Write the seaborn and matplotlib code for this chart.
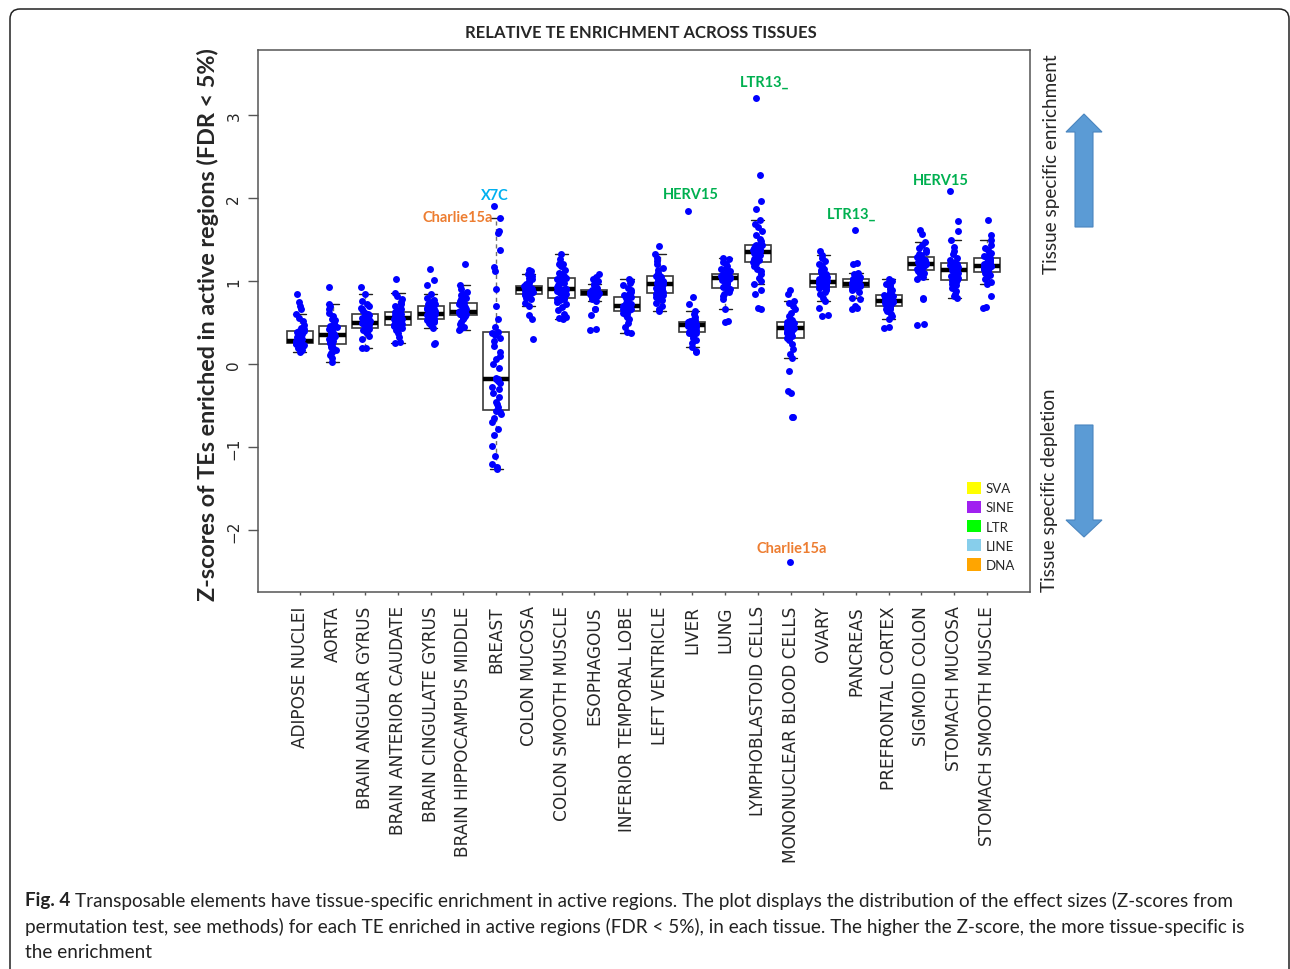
import numpy as np
import pandas as pd
import matplotlib
matplotlib.use("Agg")
import matplotlib.pyplot as plt
from matplotlib.patches import Patch, FancyBboxPatch, FancyArrow
from matplotlib.transforms import IdentityTransform
import seaborn as sns

# ---------------- data ----------------
tissues = ["ADIPOSE NUCLEI", "AORTA", "BRAIN ANGULAR GYRUS", "BRAIN ANTERIOR CAUDATE",
           "BRAIN CINGULATE GYRUS", "BRAIN HIPPOCAMPUS MIDDLE", "BREAST", "COLON MUCOSA",
           "COLON SMOOTH MUSCLE", "ESOPHAGOUS", "INFERIOR TEMPORAL LOBE", "LEFT VENTRICLE",
           "LIVER", "LUNG", "LYMPHOBLASTOID CELLS", "MONONUCLEAR BLOOD CELLS", "OVARY",
           "PANCREAS", "PREFRONTAL CORTEX", "SIGMOID COLON", "STOMACH MUCOSA",
           "STOMACH SMOOTH MUSCLE"]

adipose_nuclei = [0.15, 0.17, 0.19, 0.21, 0.22, 0.23, 0.24, 0.25, 0.25, 0.25,
                  0.26, 0.26, 0.27, 0.27, 0.27, 0.28, 0.28, 0.28, 0.28, 0.28,
                  0.29, 0.30, 0.31, 0.33, 0.35, 0.36, 0.38, 0.39, 0.40, 0.40,
                  0.42, 0.44, 0.47, 0.52, 0.56, 0.61, 0.66, 0.70, 0.75, 0.84]
aorta = [0.03, 0.08, 0.11, 0.13, 0.15, 0.17, 0.19, 0.21, 0.23, 0.24,
         0.25, 0.27, 0.28, 0.30, 0.31, 0.32, 0.33, 0.34, 0.34, 0.35,
         0.35, 0.36, 0.37, 0.38, 0.40, 0.41, 0.42, 0.44, 0.45, 0.46,
         0.47, 0.50, 0.53, 0.55, 0.58, 0.62, 0.66, 0.70, 0.73, 0.93]
brain_angular_gyrus = [0.19, 0.20, 0.30, 0.34, 0.37, 0.39, 0.40, 0.41, 0.42, 0.43,
                       0.43, 0.44, 0.45, 0.46, 0.47, 0.47, 0.48, 0.48, 0.49, 0.49,
                       0.49, 0.50, 0.51, 0.52, 0.53, 0.55, 0.56, 0.58, 0.59, 0.60,
                       0.60, 0.62, 0.64, 0.66, 0.68, 0.70, 0.73, 0.76, 0.84, 0.93]
brain_anterior_caudate = [0.26, 0.27, 0.33, 0.38, 0.41, 0.43, 0.44, 0.45, 0.46, 0.47,
                          0.47, 0.48, 0.50, 0.51, 0.52, 0.53, 0.54, 0.54, 0.55, 0.55,
                          0.56, 0.57, 0.58, 0.59, 0.60, 0.60, 0.61, 0.62, 0.62, 0.63,
                          0.63, 0.65, 0.67, 0.70, 0.72, 0.75, 0.78, 0.82, 0.86, 1.03]
brain_cingulate_gyrus = [0.24, 0.25, 0.44, 0.47, 0.49, 0.51, 0.52, 0.53, 0.53, 0.54,
                         0.54, 0.55, 0.56, 0.57, 0.58, 0.59, 0.60, 0.60, 0.61, 0.61,
                         0.61, 0.62, 0.63, 0.64, 0.65, 0.66, 0.67, 0.68, 0.69, 0.70,
                         0.70, 0.72, 0.73, 0.75, 0.77, 0.80, 0.85, 0.95, 1.01, 1.14]
brain_hippocampus_middle = [0.41, 0.42, 0.45, 0.48, 0.51, 0.54, 0.56, 0.57, 0.58, 0.59,
                            0.59, 0.60, 0.60, 0.61, 0.61, 0.62, 0.62, 0.62, 0.63, 0.63,
                            0.63, 0.64, 0.65, 0.66, 0.68, 0.69, 0.70, 0.72, 0.73, 0.74,
                            0.74, 0.76, 0.78, 0.80, 0.83, 0.85, 0.87, 0.90, 0.95, 1.20]
breast = [-1.26, -1.24, -1.20, -1.10, -0.98, -0.85, -0.78, -0.70, -0.65, -0.60,
          -0.57, -0.56, -0.52, -0.48, -0.45, -0.40, -0.35, -0.30, -0.27, -0.22,
          -0.20, -0.18, -0.18, -0.17, -0.05, 0.00, 0.06, 0.10, 0.15, 0.22,
          0.28, 0.32, 0.35, 0.38, 0.39, 0.45, 0.55, 0.70, 0.90, 1.12,
          1.17, 1.38, 1.58, 1.60, 1.76, 1.90]
colon_mucosa = [0.30, 0.54, 0.59, 0.70, 0.74, 0.78, 0.80, 0.82, 0.83, 0.84,
                0.84, 0.85, 0.86, 0.87, 0.87, 0.88, 0.88, 0.89, 0.89, 0.90,
                0.90, 0.90, 0.91, 0.91, 0.92, 0.92, 0.93, 0.93, 0.94, 0.94,
                0.94, 0.96, 0.98, 1.00, 1.02, 1.04, 1.06, 1.08, 1.12, 1.13]
colon_smooth_muscle = [0.55, 0.56, 0.57, 0.60, 0.65, 0.69, 0.72, 0.75, 0.77, 0.78,
                       0.79, 0.80, 0.81, 0.83, 0.84, 0.85, 0.86, 0.87, 0.88, 0.89,
                       0.89, 0.90, 0.90, 0.91, 0.93, 0.95, 0.96, 0.98, 0.99, 1.00,
                       1.02, 1.03, 1.04, 1.04, 1.06, 1.08, 1.10, 1.13, 1.18, 1.20,
                       1.21, 1.22, 1.26, 1.32]
esophagous = [0.41, 0.42, 0.59, 0.66, 0.67, 0.76, 0.78, 0.80, 0.82, 0.83,
              0.83, 0.84, 0.84, 0.85, 0.85, 0.85, 0.86, 0.86, 0.86, 0.86,
              0.86, 0.87, 0.87, 0.87, 0.88, 0.88, 0.88, 0.89, 0.89, 0.89,
              0.90, 0.91, 0.92, 0.93, 0.95, 0.97, 1.00, 1.02, 1.05, 1.08]
inferior_temporal_lobe = [0.38, 0.39, 0.45, 0.50, 0.54, 0.57, 0.59, 0.61, 0.62, 0.63,
                          0.64, 0.65, 0.66, 0.67, 0.67, 0.68, 0.69, 0.69, 0.70, 0.70,
                          0.70, 0.71, 0.72, 0.73, 0.74, 0.75, 0.77, 0.78, 0.80, 0.81,
                          0.81, 0.83, 0.85, 0.87, 0.89, 0.92, 0.95, 0.98, 1.00, 1.02]
left_ventricle = [0.64, 0.66, 0.70, 0.74, 0.77, 0.79, 0.81, 0.83, 0.84, 0.85,
                  0.86, 0.87, 0.89, 0.90, 0.91, 0.92, 0.93, 0.94, 0.95, 0.96,
                  0.96, 0.97, 0.98, 0.99, 1.00, 1.01, 1.02, 1.03, 1.05, 1.06,
                  1.06, 1.08, 1.10, 1.13, 1.16, 1.20, 1.24, 1.28, 1.33, 1.42]
liver = [0.15, 0.16, 0.21, 0.25, 0.29, 0.32, 0.34, 0.36, 0.37, 0.38,
         0.39, 0.40, 0.41, 0.42, 0.43, 0.44, 0.45, 0.46, 0.46, 0.47,
         0.47, 0.47, 0.48, 0.48, 0.49, 0.49, 0.50, 0.50, 0.51, 0.51,
         0.51, 0.52, 0.53, 0.55, 0.57, 0.60, 0.64, 0.73, 0.81, 1.84]
lung = [0.51, 0.52, 0.66, 0.79, 0.82, 0.85, 0.87, 0.89, 0.90, 0.91,
        0.92, 0.93, 0.95, 0.97, 0.98, 0.99, 1.00, 1.01, 1.02, 1.03,
        1.04, 1.04, 1.05, 1.05, 1.06, 1.06, 1.07, 1.08, 1.08, 1.09,
        1.09, 1.10, 1.12, 1.14, 1.16, 1.18, 1.20, 1.23, 1.26, 1.28]
lymphoblastoid_cells = [0.67, 0.68, 0.85, 0.89, 0.96, 1.00, 1.04, 1.08, 1.12, 1.15,
                        1.18, 1.22, 1.23, 1.25, 1.27, 1.28, 1.29, 1.30, 1.31, 1.32,
                        1.33, 1.34, 1.35, 1.35, 1.36, 1.37, 1.38, 1.39, 1.40, 1.40,
                        1.41, 1.42, 1.42, 1.43, 1.43, 1.45, 1.48, 1.51, 1.55, 1.60,
                        1.65, 1.69, 1.73, 1.87, 1.96, 2.28, 3.20]
mononuclear_blood_cells = [-2.38, -0.64, -0.63, -0.35, -0.32, -0.08, 0.07, 0.12, 0.18, 0.24,
                           0.29, 0.32, 0.34, 0.36, 0.37, 0.38, 0.39, 0.40, 0.41, 0.42,
                           0.42, 0.43, 0.43, 0.44, 0.45, 0.46, 0.46, 0.47, 0.48, 0.48,
                           0.49, 0.50, 0.50, 0.51, 0.53, 0.55, 0.58, 0.62, 0.66, 0.70,
                           0.74, 0.76, 0.85, 0.89]
ovary = [0.58, 0.59, 0.68, 0.76, 0.80, 0.84, 0.87, 0.89, 0.91, 0.92,
         0.93, 0.94, 0.95, 0.95, 0.96, 0.97, 0.97, 0.98, 0.98, 0.99,
         0.99, 1.00, 1.01, 1.02, 1.03, 1.04, 1.05, 1.06, 1.08, 1.09,
         1.09, 1.11, 1.13, 1.15, 1.18, 1.21, 1.24, 1.28, 1.31, 1.36]
pancreas = [0.67, 0.68, 0.70, 0.78, 0.80, 0.87, 0.89, 0.91, 0.92, 0.93,
            0.93, 0.93, 0.94, 0.94, 0.95, 0.95, 0.95, 0.96, 0.96, 0.96,
            0.96, 0.97, 0.97, 0.98, 0.98, 0.99, 1.00, 1.00, 1.01, 1.02,
            1.02, 1.03, 1.04, 1.05, 1.06, 1.08, 1.10, 1.20, 1.22, 1.61]
prefrontal_cortex = [0.43, 0.45, 0.55, 0.58, 0.61, 0.64, 0.66, 0.67, 0.68, 0.69,
                     0.70, 0.71, 0.72, 0.73, 0.73, 0.74, 0.74, 0.75, 0.75, 0.76,
                     0.76, 0.77, 0.77, 0.78, 0.79, 0.80, 0.80, 0.81, 0.82, 0.83,
                     0.83, 0.85, 0.87, 0.89, 0.91, 0.93, 0.95, 0.97, 1.00, 1.02]
sigmoid_colon = [0.47, 0.48, 0.79, 0.80, 1.02, 1.05, 1.08, 1.10, 1.12, 1.13,
                 1.14, 1.15, 1.16, 1.17, 1.18, 1.18, 1.19, 1.20, 1.20, 1.21,
                 1.21, 1.22, 1.23, 1.24, 1.25, 1.26, 1.27, 1.28, 1.28, 1.29,
                 1.29, 1.31, 1.33, 1.35, 1.37, 1.40, 1.43, 1.47, 1.57, 1.61]
stomach_mucosa = [0.80, 0.82, 0.85, 0.88, 0.92, 0.95, 0.97, 0.99, 1.00, 1.01,
                  1.02, 1.04, 1.06, 1.08, 1.09, 1.10, 1.11, 1.12, 1.13, 1.13,
                  1.14, 1.15, 1.16, 1.17, 1.18, 1.19, 1.20, 1.21, 1.21, 1.22,
                  1.22, 1.25, 1.28, 1.32, 1.36, 1.41, 1.49, 1.60, 1.72, 2.08]
stomach_smooth_muscle = [0.68, 0.69, 0.82, 0.96, 0.99, 1.02, 1.05, 1.07, 1.09, 1.10,
                         1.11, 1.12, 1.13, 1.14, 1.15, 1.16, 1.16, 1.17, 1.17, 1.18,
                         1.18, 1.19, 1.20, 1.21, 1.22, 1.23, 1.24, 1.25, 1.27, 1.28,
                         1.28, 1.30, 1.32, 1.34, 1.37, 1.40, 1.44, 1.49, 1.55, 1.74]

tissue_values = [adipose_nuclei, aorta, brain_angular_gyrus, brain_anterior_caudate,
                 brain_cingulate_gyrus, brain_hippocampus_middle, breast, colon_mucosa,
                 colon_smooth_muscle, esophagous, inferior_temporal_lobe, left_ventricle,
                 liver, lung, lymphoblastoid_cells, mononuclear_blood_cells, ovary,
                 pancreas, prefrontal_cortex, sigmoid_colon, stomach_mucosa,
                 stomach_smooth_muscle]

# labelled TEs
label_names = ["X7C", "Charlie15a", "HERV15", "LTR13_", "LTR13_", "HERV15", "Charlie15a"]
label_tissues = ["BREAST", "BREAST", "LIVER", "LYMPHOBLASTOID CELLS", "PANCREAS",
                 "STOMACH MUCOSA", "MONONUCLEAR BLOOD CELLS"]
label_values = [1.90, 1.76, 1.84, 3.20, 1.61, 2.08, -2.38]
label_classes = ["LINE", "DNA", "LTR", "LTR", "LTR", "LTR", "DNA"]

te_classes = ["SVA", "SINE", "LTR", "LINE", "DNA"]
te_class_colors = ["#FFFF00", "#A020F0", "#00FF00", "#87CEEB", "#FFA500"]
te_text_colors = {"LINE": "#00B0F0", "DNA": "#ED7D31", "LTR": "#00B050"}

# ---------------- layout ----------------
W, H = 1290, 970
sns.set_style("white")
plt.rcParams["font.family"] = ["DejaVu Sans"]
fig = plt.figure(figsize=(W / 100, H / 100), dpi=100)
fig.patch.set_facecolor("white")

ax_l, ax_r, ax_t, ax_b = 258, 1030, 51, 593
ax = fig.add_axes([ax_l / W, 1 - ax_b / H, (ax_r - ax_l) / W, (ax_b - ax_t) / H])

df = pd.DataFrame({
    "tissue": np.concatenate([[t] * len(v) for t, v in zip(tissues, tissue_values)]),
    "z": np.concatenate([np.asarray(v, float) for v in tissue_values]),
})

sns.boxplot(data=df, x="tissue", y="z", order=tissues, ax=ax, width=0.8,
            color="white", showfliers=False, whis=1.5,
            boxprops=dict(facecolor="white", edgecolor="#3a3a3a", linewidth=1.2),
            medianprops=dict(color="black", linewidth=3.2),
            whiskerprops=dict(color="#707070", linewidth=1.0, linestyle=(0, (3, 2.5))),
            capprops=dict(color="#202020", linewidth=1.0))

np.random.seed(3)
sns.stripplot(data=df, x="tissue", y="z", order=tissues, ax=ax, color="#0000FF",
              size=5.0, jitter=0.14, linewidth=0, alpha=1.0, zorder=3)

ax.set_xlim(-1.28, 22.32)
ax.set_ylim(-2.74, 3.78)
ax.set_yticks([-2, -1, 0, 1, 2, 3])
ax.set_xlabel("")
ax.set_ylabel("")

for s in ax.spines.values():
    s.set_color("#555555")
    s.set_linewidth(1.1)
    s.set_visible(True)

ax.tick_params(axis="y", direction="out", length=7, width=1, color="#555555",
               labelsize=11, pad=5, left=True)
ax.tick_params(axis="x", direction="out", length=2.5, width=1, color="#555555",
               labelsize=12.2, pad=7, bottom=True)
for lab in ax.get_yticklabels():
    lab.set_rotation(90)
    lab.set_va("center")
    lab.set_ha("right")
    lab.set_fontfamily("DejaVu Sans")
    lab.set_fontsize(11)
for lab in ax.get_xticklabels():
    lab.set_rotation(90)
    lab.set_va("top")
    lab.set_ha("center")
    lab.set_fontfamily("DejaVu Sans")

# labels of outstanding TEs
label_offsets = [(-0.05, 0.14, "center"), (-0.11, 0.01, "right"), (-0.06, 0.21, "center"),
                 (0.22, 0.20, "center"), (-0.12, 0.20, "center"), (-0.41, 0.14, "center"),
                 (0.05, 0.165, "center")]
for name, tis, val, cls, (dx, dy, ha) in zip(label_names, label_tissues, label_values,
                                              label_classes, label_offsets):
    xi = tissues.index(tis)
    ax.text(xi + dx, val + dy, name, color=te_text_colors[cls], fontsize=10.5,
            fontweight="bold", family=["Lato", "DejaVu Sans"], ha=ha, va="center",
            zorder=5)

# legend
handles = [Patch(facecolor=c, edgecolor="none") for c in te_class_colors]
leg = ax.legend(handles, te_classes, loc="lower right",
                bbox_to_anchor=((1015 - ax_l) / (ax_r - ax_l), (ax_b - 572) / (ax_b - ax_t)),
                frameon=False, handlelength=1.05, handleheight=1.05,
                handletextpad=0.35, labelspacing=0.5, borderpad=0, borderaxespad=0,
                prop={"family": ["Lato", "DejaVu Sans"], "size": 9.5})

# texts
renderer = fig.canvas.get_renderer()


def fit(t, target, dim="w"):
    bb = t.get_window_extent(renderer)
    cur = bb.width if dim == "w" else bb.height
    t.set_fontsize(t.get_fontsize() * target / cur)


title = fig.text(641 / W, 1 - 33 / H, "RELATIVE TE ENRICHMENT ACROSS TISSUES",
                 ha="center", va="center", fontsize=12, fontweight="bold",
                 family=["Lato", "DejaVu Sans"])
fit(title, 351)

ylab = fig.text(208 / W, 1 - 325 / H, "Z-scores of TEs enriched in active regions (FDR < 5%)",
                ha="center", va="center", rotation=90, fontsize=15, fontweight="bold",
                family=["Lato", "DejaVu Sans"])
fit(ylab, 556, "h")

t_enr = fig.text(1052 / W, 1 - 164 / H, "Tissue specific enrichment", ha="center",
                 va="center", rotation=90, fontsize=12, family=["Lato", "DejaVu Sans"])
fit(t_enr, 218, "h")
t_dep = fig.text(1050 / W, 1 - 490 / H, "Tissue specific depletion", ha="center",
                 va="center", rotation=90, fontsize=12, family=["Lato", "DejaVu Sans"])
fit(t_dep, 204, "h")

# arrows (pixel coordinates, y from bottom)
arrow_kw = dict(width=18, head_width=36, length_includes_head=True,
                facecolor="#5B9BD5", edgecolor="#4A85BF", linewidth=0.8,
                transform=IdentityTransform())
fig.patches.append(FancyArrow(1084, H - 228, 0, 228 - 115, head_length=18, **arrow_kw))
fig.patches.append(FancyArrow(1084, H - 426, 0, -(538 - 426), head_length=17, **arrow_kw))

# caption
cap_kw = dict(ha="left", va="center", family=["Lato", "DejaVu Sans"], color="#222222")
line2 = fig.text(25 / W, 1 - 927 / H,
                 "permutation test, see methods) for each TE enriched in active regions "
                 "(FDR < 5%), in each tissue. The higher the Z-score, the more tissue-specific is",
                 fontsize=13, **cap_kw)
fit(line2, 1216)
cap_size = line2.get_fontsize()
fig4 = fig.text(25 / W, 1 - 901 / H, "Fig. 4", fontsize=cap_size, fontweight="bold", **cap_kw)
bb = fig4.get_window_extent(renderer)
fig.text((bb.x1 + 5) / W, 1 - 901 / H,
         "Transposable elements have tissue-specific enrichment in active regions. The plot "
         "displays the distribution of the effect sizes (Z-scores from",
         fontsize=cap_size, **cap_kw)
fig.text(25 / W, 1 - 953 / H, "the enrichment", fontsize=cap_size, **cap_kw)

# outer rounded frame
frame = FancyBboxPatch((10, -30), 1279, H - 10 + 30,
                       boxstyle="round,pad=0,rounding_size=10",
                       facecolor="none", edgecolor="#222222", linewidth=1.1,
                       transform=IdentityTransform())
fig.patches.append(frame)

fig.savefig("out.png", dpi=100, facecolor="white")
